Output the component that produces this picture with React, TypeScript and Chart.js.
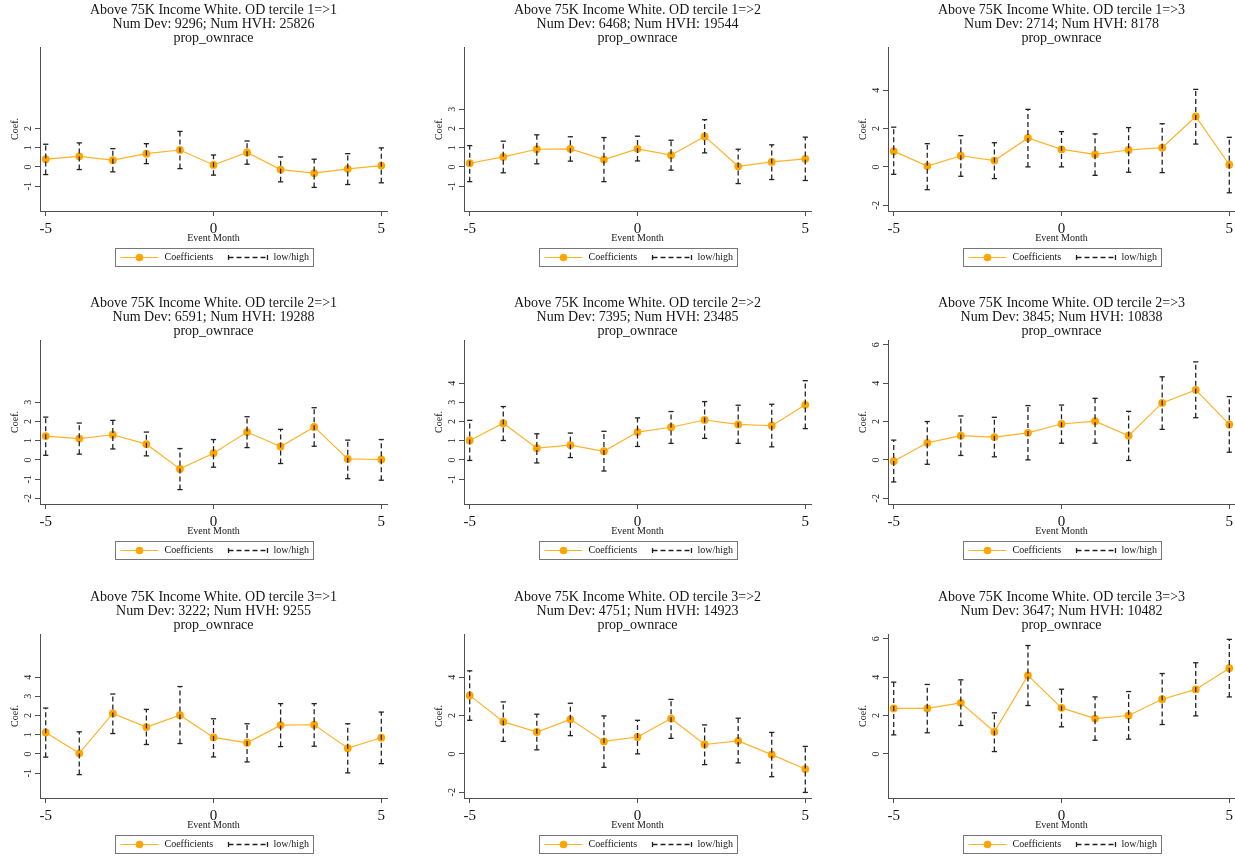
import React, { useEffect, useRef } from "react";
import { Chart, registerables } from "chart.js";

Chart.register(...registerables);

// ---- data -------------------------------------------------------------
const months = [-5, -4, -3, -2, -1, 0, 1, 2, 3, 4, 5];
const xTicks = [-5, 0, 5];
const outcome = "prop_ownrace";

// OD tercile 1 => 1
const coef11 = [0.40, 0.55, 0.35, 0.69, 0.88, 0.10, 0.75, -0.14, -0.33, -0.10, 0.07];
const lo11 = [-0.40, -0.14, -0.26, 0.17, -0.09, -0.43, 0.14, -0.78, -1.07, -0.92, -0.83];
const hi11 = [1.18, 1.25, 0.95, 1.21, 1.85, 0.62, 1.35, 0.52, 0.40, 0.69, 0.99];
const yTicks11 = [-1, 0, 1, 2];

// OD tercile 1 => 2
const coef12 = [0.19, 0.52, 0.92, 0.94, 0.38, 0.94, 0.61, 1.59, 0.03, 0.26, 0.42];
const lo12 = [-0.77, -0.31, 0.16, 0.30, -0.77, 0.31, -0.17, 0.73, -0.87, -0.66, -0.71];
const hi12 = [1.11, 1.34, 1.67, 1.57, 1.53, 1.60, 1.39, 2.46, 0.92, 1.15, 1.55];
const yTicks12 = [-1, 0, 1, 2, 3];

// OD tercile 1 => 3
const coef13 = [0.82, 0.04, 0.58, 0.33, 1.51, 0.91, 0.65, 0.88, 1.00, 2.63, 0.11];
const lo13 = [-0.39, -1.19, -0.49, -0.61, 0.00, 0.00, -0.44, -0.28, -0.30, 1.19, -1.35];
const hi13 = [2.07, 1.21, 1.63, 1.26, 3.00, 1.84, 1.72, 2.05, 2.25, 4.04, 1.54];
const yTicks13 = [-2, 0, 2, 4];

// OD tercile 2 => 1
const coef21 = [1.24, 1.11, 1.31, 0.82, -0.47, 0.35, 1.45, 0.70, 1.72, 0.05, 0.02];
const lo21 = [0.24, 0.30, 0.57, 0.21, -1.55, -0.38, 0.64, -0.19, 0.71, -0.98, -1.06];
const hi21 = [2.23, 1.92, 2.06, 1.45, 0.59, 1.06, 2.25, 1.59, 2.72, 1.03, 1.06];
const yTicks21 = [-2, -1, 0, 1, 2, 3];

// OD tercile 2 => 2
const coef22 = [1.01, 1.91, 0.61, 0.77, 0.45, 1.45, 1.70, 2.08, 1.85, 1.78, 2.87];
const lo22 = [-0.03, 1.01, -0.16, 0.12, -0.58, 0.70, 0.86, 1.12, 0.86, 0.68, 1.63];
const hi22 = [2.06, 2.78, 1.36, 1.40, 1.49, 2.19, 2.52, 3.04, 2.85, 2.90, 4.13];
const yTicks22 = [-1, 0, 1, 2, 3, 4];

// OD tercile 2 => 3
const coef23 = [-0.07, 0.89, 1.26, 1.19, 1.41, 1.87, 2.02, 1.26, 2.97, 3.65, 1.85];
const lo23 = [-1.15, -0.23, 0.23, 0.16, 0.00, 0.87, 0.87, -0.03, 1.59, 2.20, 0.40];
const hi23 = [1.03, 2.00, 2.29, 2.22, 2.83, 2.86, 3.21, 2.53, 4.33, 5.11, 3.30];
const yTicks23 = [-2, 0, 2, 4, 6];

// OD tercile 3 => 1
const coef31 = [1.12, 0.03, 2.11, 1.40, 2.02, 0.86, 0.58, 1.50, 1.52, 0.30, 0.84];
const lo31 = [-0.17, -1.08, 1.06, 0.49, 0.54, -0.16, -0.42, 0.38, 0.40, -0.99, -0.51];
const hi31 = [2.39, 1.15, 3.12, 2.32, 3.51, 1.83, 1.57, 2.62, 2.62, 1.57, 2.18];
const yTicks31 = [-1, 0, 1, 2, 3, 4];

// OD tercile 3 => 2
const coef32 = [3.05, 1.68, 1.14, 1.80, 0.65, 0.88, 1.84, 0.49, 0.68, -0.04, -0.79];
const lo32 = [1.75, 0.65, 0.21, 0.95, -0.70, 0.00, 0.81, -0.56, -0.47, -1.19, -2.01];
const hi32 = [4.33, 2.71, 2.07, 2.64, 1.98, 1.75, 2.84, 1.51, 1.86, 1.12, 0.39];
const yTicks32 = [-2, 0, 2, 4];

// OD tercile 3 => 3
const coef33 = [2.37, 2.37, 2.66, 1.15, 4.09, 2.40, 1.84, 2.00, 2.85, 3.36, 4.47];
const lo33 = [0.99, 1.10, 1.48, 0.12, 2.52, 1.41, 0.71, 0.77, 1.53, 1.98, 2.97];
const hi33 = [3.74, 3.62, 3.86, 2.14, 5.65, 3.37, 2.97, 3.25, 4.19, 4.75, 5.97];
const yTicks33 = [0, 2, 4, 6];

// origin tercile, destination tercile, developments, HVH counts
const origins = [1, 1, 1, 2, 2, 2, 3, 3, 3];
const dests = [1, 2, 3, 1, 2, 3, 1, 2, 3];
const numDev = [9296, 6468, 2714, 6591, 7395, 3845, 3222, 4751, 3647];
const numHvh = [25826, 19544, 8178, 19288, 23485, 10838, 9255, 14923, 10482];

const coefs = [coef11, coef12, coef13, coef21, coef22, coef23, coef31, coef32, coef33];
const lows = [lo11, lo12, lo13, lo21, lo22, lo23, lo31, lo32, lo33];
const highs = [hi11, hi12, hi13, hi21, hi22, hi23, hi31, hi32, hi33];
const yTickSets = [yTicks11, yTicks12, yTicks13, yTicks21, yTicks22, yTicks23, yTicks31, yTicks32, yTicks33];

// ---- styling ----------------------------------------------------------
const FONT = '"Liberation Serif", "Times New Roman", serif';
const ORANGE = "rgb(255,165,0)";
const ORANGE_LINE = "rgb(255,178,40)";
const CI_COLOR = "#222";
const AXIS_COLOR = "#505050";
const TEXT_COLOR = "#151515";

const W = 424;
const H = 293;

// Titles, axis labels, rotated y tick labels and the boxed legend
const stataDecor = {
  id: "stataDecor",
  afterDraw(chart: any, _args: any, opts: any) {
    const { ctx, chartArea: a, scales } = chart;
    const cx = (a.left + a.right) / 2;
    const cy = (a.top + a.bottom) / 2;
    ctx.save();
    ctx.fillStyle = TEXT_COLOR;

    // three-line title
    ctx.font = `14px ${FONT}`;
    ctx.textAlign = "center";
    ctx.textBaseline = "alphabetic";
    (opts.title as string[]).forEach((line, i) => ctx.fillText(line, cx, 14 + i * 14));

    // y tick labels, vertical
    ctx.font = `10px ${FONT}`;
    ctx.textBaseline = "middle";
    for (const t of scales.y.ticks) {
      const y = scales.y.getPixelForValue(t.value);
      ctx.save();
      ctx.translate(a.left - 11.5, y);
      ctx.rotate(-Math.PI / 2);
      ctx.fillText(String(t.value), 0, 0);
      ctx.restore();
    }

    // y axis title
    ctx.save();
    ctx.translate(a.left - 25, cy);
    ctx.rotate(-Math.PI / 2);
    ctx.fillText("Coef.", 0, 0);
    ctx.restore();

    // x tick labels
    ctx.font = `15px ${FONT}`;
    ctx.textBaseline = "alphabetic";
    for (const t of scales.x.ticks) {
      ctx.fillText(String(t.value), scales.x.getPixelForValue(t.value), a.bottom + 22);
    }

    // x axis title
    ctx.font = `10px ${FONT}`;
    ctx.fillText("Event Month", cx, a.bottom + 30);

    // legend box
    const lw = 198;
    const lh = 18;
    const lx = Math.round(cx - lw / 2) + 0.5;
    const ly = Math.round(a.bottom + 37) + 0.5;
    const my = ly + lh / 2;
    ctx.strokeStyle = "#777";
    ctx.lineWidth = 1;
    ctx.strokeRect(lx, ly, lw, lh);

    // coefficient symbol
    ctx.strokeStyle = ORANGE_LINE;
    ctx.lineWidth = 1.2;
    ctx.beginPath();
    ctx.moveTo(lx + 5, my);
    ctx.lineTo(lx + 43, my);
    ctx.stroke();
    ctx.fillStyle = ORANGE;
    ctx.beginPath();
    ctx.arc(lx + 24, my, 3.8, 0, Math.PI * 2);
    ctx.fill();

    ctx.fillStyle = TEXT_COLOR;
    ctx.textAlign = "left";
    ctx.textBaseline = "middle";
    ctx.fillText("Coefficients", lx + 49, my);

    // range-cap symbol
    ctx.strokeStyle = CI_COLOR;
    ctx.lineWidth = 1.3;
    ctx.setLineDash([5, 3]);
    ctx.beginPath();
    ctx.moveTo(lx + 113, my);
    ctx.lineTo(lx + 152, my);
    ctx.stroke();
    ctx.setLineDash([]);
    ctx.beginPath();
    ctx.moveTo(lx + 113, my - 2.5);
    ctx.lineTo(lx + 113, my + 2.5);
    ctx.moveTo(lx + 152, my - 2.5);
    ctx.lineTo(lx + 152, my + 2.5);
    ctx.stroke();
    ctx.fillText("low/high", lx + 158, my);

    ctx.restore();
  },
};

function Panel({ index }: { index: number }) {
  const ref = useRef<HTMLCanvasElement | null>(null);

  useEffect(() => {
    if (!ref.current) return;
    const coef = coefs[index];
    const lo = lows[index];
    const hi = highs[index];
    const yTicks = yTickSets[index];

    const coefPoints = months.map((m, i) => ({ x: m, y: coef[i] }));
    const capPoints: { x: number; y: number | null }[] = [];
    months.forEach((m, i) => {
      capPoints.push({ x: m, y: lo[i] }, { x: m, y: hi[i] }, { x: m, y: null });
    });

    const axisBase = {
      type: "linear" as const,
      ticks: { display: false },
      grid: {
        display: true,
        drawOnChartArea: false,
        drawTicks: true,
        tickLength: 5,
        color: AXIS_COLOR,
        lineWidth: 1,
      },
      border: { display: true, color: AXIS_COLOR, width: 1 },
    };

    const chart = new Chart(ref.current, {
      type: "line",
      data: {
        datasets: [
          {
            label: "low/high",
            data: capPoints as any,
            order: 0,
            borderColor: CI_COLOR,
            borderWidth: 1.3,
            borderDash: [5, 3],
            pointStyle: "line",
            pointRadius: 2.6,
            pointBorderColor: CI_COLOR,
            pointBorderWidth: 1.3,
            pointBackgroundColor: CI_COLOR,
            spanGaps: false,
            fill: false,
            tension: 0,
          },
          {
            label: "Coefficients",
            data: coefPoints,
            order: 1,
            borderColor: ORANGE_LINE,
            borderWidth: 1.2,
            pointRadius: 3.9,
            pointBackgroundColor: ORANGE,
            pointBorderColor: ORANGE,
            pointBorderWidth: 0,
            fill: false,
            tension: 0,
          },
        ],
      },
      options: {
        animation: false,
        responsive: false,
        devicePixelRatio: 1,
        events: [],
        layout: { padding: { left: 34, top: 47, right: 37, bottom: 76 } },
        plugins: {
          legend: { display: false },
          title: { display: false },
          tooltip: { enabled: false },
          stataDecor: {
            title: [
              `Above 75K Income White. OD tercile ${origins[index]}=>${dests[index]}`,
              `Num Dev: ${numDev[index]}; Num HVH: ${numHvh[index]}`,
              outcome,
            ],
          },
        } as any,
        scales: {
          x: {
            ...axisBase,
            min: -5.17,
            max: 5.17,
            afterBuildTicks: (s: any) => {
              s.ticks = xTicks.map((v) => ({ value: v }));
            },
            afterFit: (s: any) => {
              s.height = 6;
            },
          },
          y: {
            ...axisBase,
            min: -2.3,
            max: 6.25,
            afterBuildTicks: (s: any) => {
              s.ticks = yTicks.map((v) => ({ value: v }));
            },
            afterFit: (s: any) => {
              s.width = 6;
            },
          },
        } as any,
      },
      plugins: [stataDecor as any],
    });

    return () => chart.destroy();
  }, [index]);

  return <canvas ref={ref} width={W} height={H} style={{ display: "block" }} />;
}

export default function App() {
  return (
    <div
      style={{
        position: "absolute",
        left: 0,
        top: 0,
        width: 1235,
        height: 857,
        overflow: "hidden",
        background: "#fff",
      }}
    >
      {origins.map((_, i) => (
        <div
          key={i}
          style={{
            position: "absolute",
            left: (i % 3) * W,
            top: Math.round(Math.floor(i / 3) * 293.4),
            width: W,
            height: H,
          }}
        >
          <Panel index={i} />
        </div>
      ))}
    </div>
  );
}
